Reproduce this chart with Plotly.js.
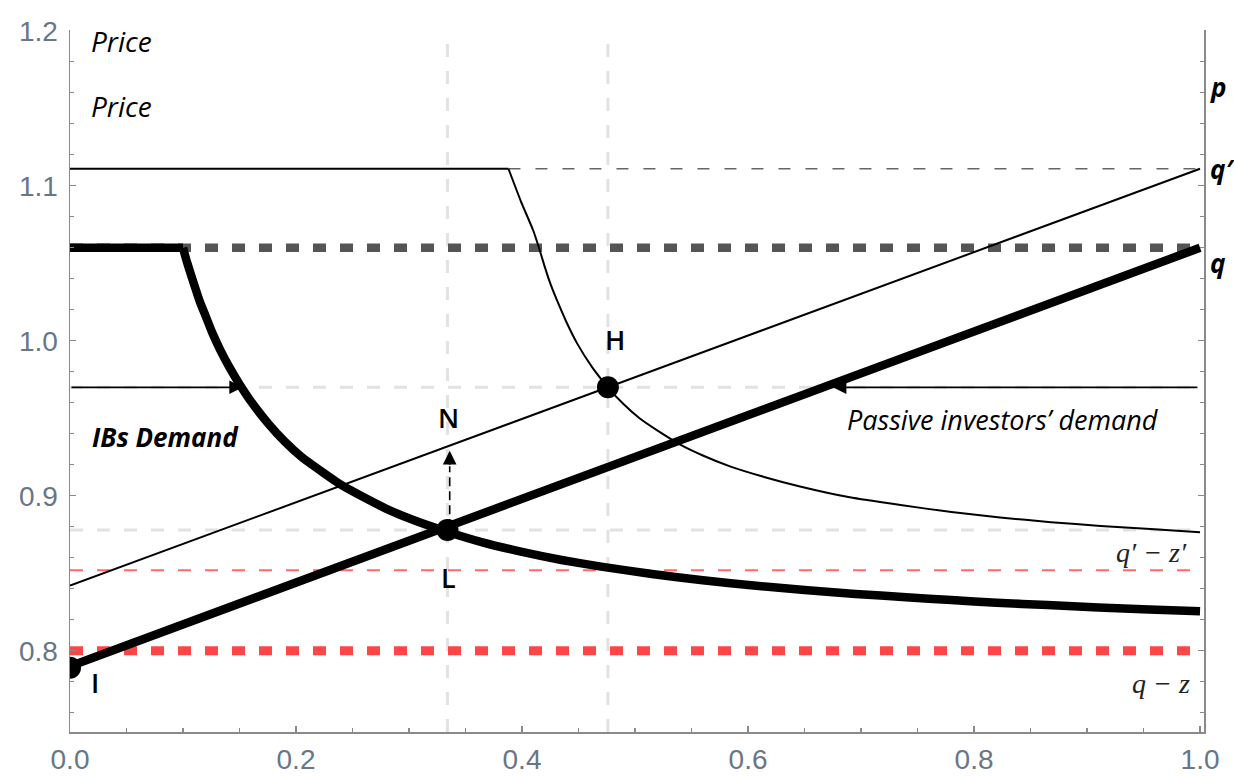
<!DOCTYPE html>
<html>
<head>
<meta charset="utf-8">
<script src="https://cdn.plot.ly/plotly-3.0.1.min.js"></script>
<style>html,body{margin:0;padding:0;background:#fff;}#chart{width:1234px;height:776px;}</style>
</head>
<body>
<div id="chart"></div>
<script>
// ---- data ----
// IBs demand (thick): flat part and curve
const ibFlatX = [0, 0.100];
const ibFlatP = [1.060, 1.060];
const ibCurveX = [0.100, 0.103, 0.106, 0.110, 0.115, 0.120, 0.126, 0.133, 0.141, 0.150, 0.162, 0.175, 0.190, 0.205, 0.222, 0.240, 0.260, 0.280, 0.305, 0.333, 0.365, 0.400, 0.435, 0.470, 0.515, 0.560, 0.605, 0.650, 0.695, 0.740, 0.780, 0.820, 0.865, 0.910, 0.955, 1.000];
const ibCurveP = [1.060, 1.052, 1.045, 1.036, 1.025, 1.016, 1.005, 0.994, 0.983, 0.972, 0.959, 0.947, 0.935, 0.925, 0.916, 0.907, 0.899, 0.8916, 0.884, 0.877, 0.870, 0.8638, 0.8586, 0.8543, 0.8495, 0.8455, 0.8421, 0.8392, 0.8367, 0.8345, 0.8327, 0.831, 0.8295, 0.828, 0.8267, 0.8255];
// shifted demand (thin): flat part and curve
const shFlatX = [0, 0.388];
const shFlatP = [1.111, 1.111];
const shCurveX = [0.388, 0.399, 0.410, 0.415, 0.420, 0.425, 0.431, 0.440, 0.449, 0.462, 0.476, 0.490, 0.504, 0.520, 0.540, 0.560, 0.584, 0.615, 0.646, 0.690, 0.735, 0.780, 0.823, 0.868, 0.912, 0.956, 1.000];
const shCurveP = [1.111, 1.090, 1.071, 1.060, 1.048, 1.037, 1.026, 1.011, 0.998, 0.983, 0.970, 0.959, 0.950, 0.942, 0.933, 0.926, 0.919, 0.912, 0.906, 0.899, 0.894, 0.8895, 0.886, 0.883, 0.8805, 0.8785, 0.8765];
// supply lines
const qLineX = [0, 1.0];
const qLineP = [0.790, 1.060];
const qPrimeLineX = [0, 1.0];
const qPrimeLineP = [0.842, 1.111];
// reference levels
const fullX = [0, 1.0];
const qLevel = 1.060;
const qPrimeLevel = 1.111;
const qPrimeLevelStart = 0.388;
const qzLevel = 0.800;
const qzPrimeLevel = 0.852;
const guideLevels = [0.970, 0.878];
const guideXs = [0.334, 0.476];
// equilibrium points
const pointNames = ['I', 'L', 'H'];
const pointX = [0, 0.334, 0.476];
const pointP = [0.789, 0.878, 0.970];
// arrows: [tailX, tailP, tipX, tipP]
const arrowLeft = [0, 0.970, 0.153, 0.970];
const arrowRight = [0.999, 0.970, 0.675, 0.970];
const arrowUp = [0.336, 0.879, 0.336, 0.929];
const arrowUpHeadTail = 0.919;
// axis ticks
const xTicks = [0, 0.2, 0.4, 0.6, 0.8, 1.0];
const xTickText = ['0.0', '0.2', '0.4', '0.6', '0.8', '1.0'];
const yTicks = [0.8, 0.9, 1.0, 1.1, 1.2];
const yTickText = ['0.8', '0.9', '1.0', '1.1', '1.2'];

const DASH = '13px,14px';
const traces = [];
// light gray guides
guideLevels.forEach(v => traces.push({x: fullX, y: [v, v], mode: 'lines', line: {color: '#e2e2e2', width: 3, dash: DASH}, hoverinfo: 'skip'}));
guideXs.forEach(v => traces.push({x: [v, v], y: [0.7476, 1.2005], mode: 'lines', line: {color: '#e2e2e2', width: 3, dash: DASH}, hoverinfo: 'skip'}));
// red levels
traces.push({x: fullX, y: [qzPrimeLevel, qzPrimeLevel], mode: 'lines', line: {color: '#ff6a6a', width: 2, dash: DASH}});
traces.push({x: fullX, y: [qzLevel, qzLevel], mode: 'lines', line: {color: '#ff4545', width: 9, dash: DASH}});
// gray levels
traces.push({x: [qPrimeLevelStart, 1.0], y: [qPrimeLevel, qPrimeLevel], mode: 'lines', line: {color: '#666666', width: 1.6, dash: '12px,15px'}});
traces.push({x: fullX, y: [qLevel, qLevel], mode: 'lines', line: {color: '#555555', width: 8.5, dash: DASH}});
// thin curves and line
traces.push({x: shFlatX, y: shFlatP, mode: 'lines', line: {color: '#000', width: 2}});
traces.push({x: shCurveX, y: shCurveP, mode: 'lines', line: {color: '#000', width: 2, shape: 'spline', smoothing: 0.5}});
traces.push({x: qPrimeLineX, y: qPrimeLineP, mode: 'lines', line: {color: '#000', width: 2}});
// dashed up arrow shaft
traces.push({x: [arrowUp[0], arrowUp[2]], y: [arrowUp[1], arrowUpHeadTail], mode: 'lines', line: {color: '#000', width: 1.6, dash: '9px,5px'}});
// thick curves and line
traces.push({x: ibFlatX, y: ibFlatP, mode: 'lines', line: {color: '#000', width: 8.5}});
traces.push({x: ibCurveX, y: ibCurveP, mode: 'lines', line: {color: '#000', width: 8.5, shape: 'spline', smoothing: 0.5}});
traces.push({x: qLineX, y: qLineP, mode: 'lines', line: {color: '#000', width: 8.5}});
// points
traces.push({x: pointX, y: pointP, mode: 'markers', marker: {color: '#000', size: 22}, text: pointNames});

const TXT = '#000';
const ann = [];
function label(text, x, y, opts) {
  ann.push(Object.assign({text: text, x: x, y: y, xref: 'x', yref: 'y', showarrow: false,
    xanchor: 'left', yanchor: 'middle', font: {family: 'Open Sans', size: 27, color: TXT, style: 'italic'}}, opts || {}));
}
const sideFont = {family: 'Open Sans', size: 26, color: TXT, style: 'italic', weight: 'bold'};
label('Price', 0.017, 1.1932, {font: {family: 'Open Sans', size: 28, color: TXT, style: 'italic'}});
label('Price', 0.017, 1.1513, {font: {family: 'Open Sans', size: 28, color: TXT, style: 'italic'}});
label('p', 1.0035, 1.164, {xref: 'paper', font: sideFont});
label('q′', 1.0035, 1.111, {xref: 'paper', font: sideFont});
label('q', 1.0035, 1.050, {xref: 'paper', font: sideFont});
label('q′ − z′', 0.957, 0.8635, {xanchor: 'center', font: {family: 'Liberation Serif', size: 28, color: '#222', style: 'italic'}});
label('q − z', 0.9655, 0.779, {xanchor: 'center', font: {family: 'Liberation Serif', size: 28, color: '#222', style: 'italic'}});
label('IBs Demand', 0.0175, 0.9377, {font: {family: 'Open Sans', size: 26, color: TXT, style: 'italic', weight: 'bold'}});
label('Passive investors’ demand', 0.6858, 0.9494);
const ptFont = {family: 'Open Sans', size: 27, color: TXT, weight: 600};
label('N', 0.3345, 0.9506, {xanchor: 'center', font: ptFont});
label('L', 0.3345, 0.8474, {xanchor: 'center', font: ptFont});
label('H', 0.4823, 1.0010, {xanchor: 'center', font: ptFont});
label('I', 0.0221, 0.7797, {xanchor: 'center', font: ptFont});

function arrow(a, extra) {
  ann.push(Object.assign({x: a[2], y: a[3], ax: a[0], ay: a[1], xref: 'x', yref: 'y', axref: 'x', ayref: 'y',
    text: '', showarrow: true, arrowhead: 2, arrowsize: 1.6, arrowwidth: 1.7, arrowcolor: '#000', standoff: 0, startstandoff: 0}, extra || {}));
}
arrow(arrowLeft);
arrow(arrowRight);
arrow([arrowUp[0], arrowUpHeadTail, arrowUp[2], arrowUp[3]]);

const tickFont = {family: 'Liberation Sans', size: 28, color: '#687686'};
const layout = {
  width: 1234, height: 776, autosize: false,
  margin: {l: 70, r: 30, t: 30, b: 44, pad: 0},
  paper_bgcolor: '#fff', plot_bgcolor: '#fff',
  showlegend: false,
  xaxis: {range: [0, 1.0035], showgrid: false, zeroline: false, showline: true, linecolor: '#8a8a8a', linewidth: 1.5,
    tickvals: xTicks, ticktext: xTickText, ticks: 'inside', ticklen: 6, tickcolor: '#8a8a8a', tickwidth: 1.2,
    minor: {dtick: 0.05, ticks: 'inside', ticklen: 4, tickcolor: '#8a8a8a', tickwidth: 1.2, showgrid: false},
    tickfont: tickFont, ticklabelstandoff: 2, fixedrange: true},
  yaxis: {range: [0.7476, 1.2005], showgrid: false, zeroline: false, showline: true, linecolor: '#8a8a8a', linewidth: 1.5,
    mirror: 'ticks',
    tickvals: yTicks, ticktext: yTickText, ticks: 'inside', ticklen: 6, tickcolor: '#8a8a8a', tickwidth: 1.2,
    minor: {dtick: 0.02, tick0: 0.8, ticks: 'inside', ticklen: 4, tickcolor: '#8a8a8a', tickwidth: 1.2, showgrid: false},
    tickfont: tickFont, ticklabelstandoff: 5, fixedrange: true},
  annotations: ann
};
Plotly.newPlot('chart', traces, layout, {displayModeBar: false, staticPlot: true});
</script>
</body>
</html>
